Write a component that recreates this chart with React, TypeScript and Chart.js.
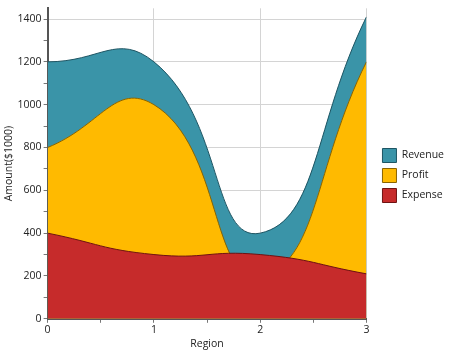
import React, { useEffect, useRef } from "react";
import { Chart, registerables } from "chart.js";

Chart.register(...registerables);

const regions = [0, 1, 2, 3];
const revenue = [1200, 1200, 400, 1410];
const profit = [800, 1000, 200, 1200];
const expense = [400, 300, 300, 210];

const FONT = "'Open Sans', 'Noto Sans', sans-serif";
const FS = 10.5;

const legendShift = {
  id: "legendShift",
  afterLayout(chart: any) {
    const lg = chart.legend;
    if (!lg) return;
    lg.left += 10;
    lg.right += 10;
    lg.top -= 3;
    lg.bottom -= 3;
  },
};

export default function App() {
  const ref = useRef<HTMLCanvasElement | null>(null);
  useEffect(() => {
    document.body.style.margin = "0";
    const ctx = ref.current!.getContext("2d")!;
    const pts = (arr: number[]) => regions.map((x, i) => ({ x, y: arr[i] }));
    const mk = (label: string, arr: number[], bg: string, bd: string, order: number) => ({
      label,
      data: pts(arr),
      backgroundColor: bg,
      borderColor: bd,
      borderWidth: 1,
      fill: "origin",
      tension: 0.5,
      pointRadius: 0,
      order,
    });
    const chart = new Chart(ctx, {
      type: "line",
      data: {
        datasets: [
          mk("Revenue", revenue, "#3A94A8", "#1E5563", 3),
          mk("Profit", profit, "#FFBA00", "#8A6400", 2),
          mk("Expense", expense, "#C62B2B", "#6E1212", 1),
        ],
      },
      plugins: [legendShift],
      options: {
        animation: false,
        responsive: false,
        layout: { padding: { top: 5, right: 9, left: 0, bottom: 0 } },
        plugins: {
          tooltip: { enabled: false },
          legend: {
            position: "right",
            labels: {
              boxWidth: 14,
              boxHeight: 14,
              padding: 6,
              color: "#222",
              font: { family: FONT, size: FS },
              sort: (a: any, b: any) => a.datasetIndex - b.datasetIndex,
            },
          },
        },
        scales: {
          x: {
            type: "linear",
            min: 0,
            max: 3,
            afterBuildTicks: (s: any) => {
              s.ticks = [0, 0.5, 1, 1.5, 2, 2.5, 3].map((v) => ({ value: v }));
            },
            ticks: {
              color: "#222",
              font: { family: FONT, size: FS },
              padding: 1,
              maxRotation: 0,
              callback: (v: any) => (Number(v) % 1 === 0 ? String(v) : ""),
            },
            grid: {
              color: (c: any) =>
                c.tick && c.tick.value % 1 === 0 && c.tick.value !== 0 ? "#d4d4d4" : "transparent",
              tickColor: "#777",
              tickLength: 4,
            },
            border: { color: "#555", width: 2 },
            title: {
              display: true,
              text: "Region",
              color: "#222",
              font: { family: FONT, size: FS },
              padding: { top: 0, bottom: 2 },
            },
          },
          y: {
            type: "linear",
            min: 0,
            max: 1450,
            afterBuildTicks: (s: any) => {
              const t = [];
              for (let v = 0; v <= 1400; v += 100) t.push({ value: v });
              s.ticks = t;
            },
            ticks: {
              color: "#222",
              font: { family: FONT, size: FS },
              padding: 2,
              callback: (v: any) => (Number(v) % 200 === 0 ? String(v) : ""),
            },
            grid: {
              color: (c: any) =>
                c.tick && c.tick.value % 200 === 0 && c.tick.value !== 0 ? "#d4d4d4" : "transparent",
              tickColor: "#777",
              tickLength: 4,
            },
            border: { color: "#555", width: 2 },
            title: {
              display: true,
              text: "Amount($1000)",
              color: "#222",
              font: { family: FONT, size: FS },
              padding: { top: 3, bottom: 0 },
            },
          },
        },
      },
    });
    return () => chart.destroy();
  }, []);
  return <canvas ref={ref} width={453} height={352} style={{ display: "block" }} />;
}
